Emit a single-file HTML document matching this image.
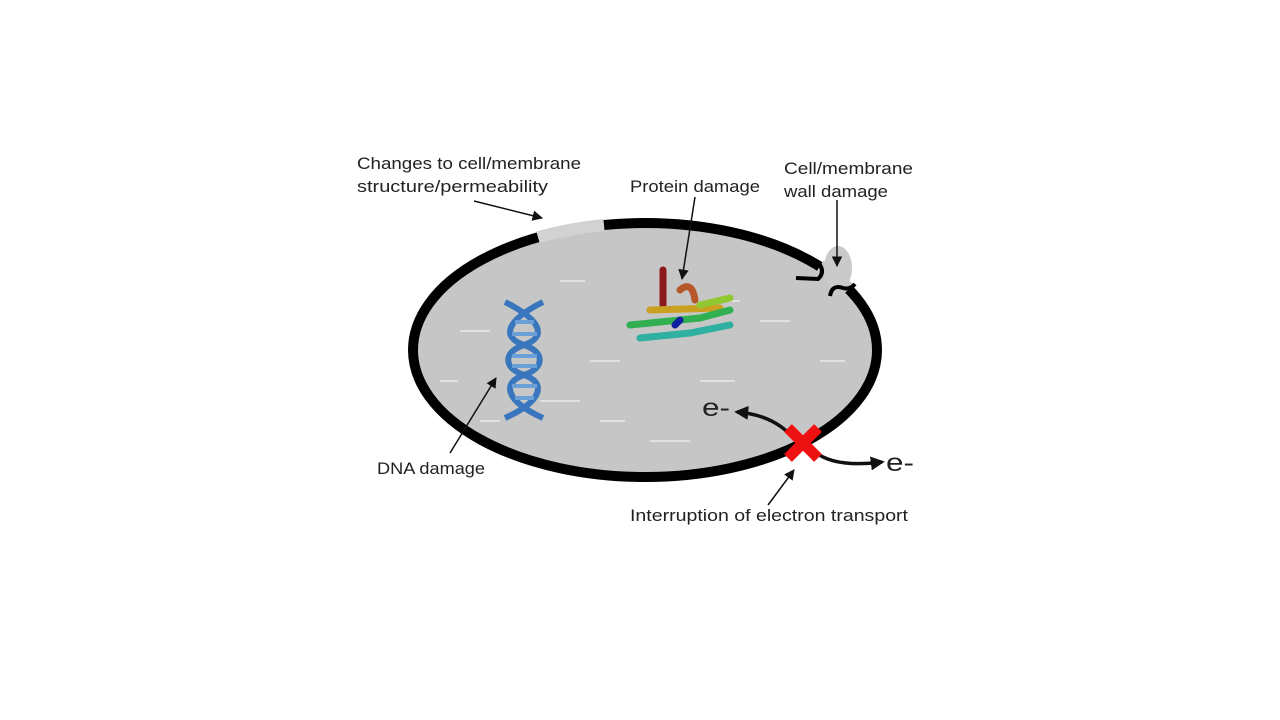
<!DOCTYPE html>
<html><head><meta charset="utf-8"><style>
html,body{margin:0;padding:0;background:#fff;width:1280px;height:720px;overflow:hidden}
svg{display:block}
text{font-family:"Liberation Sans",sans-serif;fill:#222}
</style></head><body>
<svg width="1280" height="720" viewBox="0 0 1280 720">
<defs>
<marker id="a" viewBox="0 0 10 10" refX="9" refY="5" markerWidth="7" markerHeight="7" orient="auto"><path d="M0,0 L10,5 L0,10 z" fill="#111"/></marker>
<marker id="b" viewBox="0 0 10 10" refX="8" refY="5" markerWidth="4" markerHeight="4" orient="auto"><path d="M0,0 L10,5 L0,10 z" fill="#111"/></marker>
</defs>
<ellipse cx="645" cy="350" rx="232" ry="127" fill="#c6c6c6" stroke="#000" stroke-width="10"/>
<g fill="#e8e8e8" opacity=".8">
<rect x="460" y="330" width="30" height="2"/><rect x="540" y="400" width="40" height="2"/><rect x="600" y="420" width="25" height="2"/><rect x="700" y="380" width="35" height="2"/><rect x="480" y="420" width="20" height="2"/><rect x="760" y="320" width="30" height="2"/><rect x="650" y="440" width="40" height="2"/><rect x="560" y="280" width="25" height="2"/><rect x="820" y="360" width="25" height="2"/><rect x="440" y="380" width="18" height="2"/><rect x="720" y="300" width="20" height="2"/><rect x="590" y="360" width="30" height="2"/>
</g>
<path d="M538,237.3 A232,127 0 0 1 604,225" fill="none" stroke="#d2d2d2" stroke-width="12"/>
<path d="M820,266 A232,127 0 0 1 849,289" fill="none" stroke="#c9c9c9" stroke-width="13"/>
<ellipse cx="838" cy="268" rx="14" ry="22" fill="#cacaca"/>
<path d="M796,278 L818,279 Q826,272 818,262" fill="none" stroke="#000" stroke-width="4"/>
<path d="M830,296 Q832,284 843,288 Q850,290 855,284" fill="none" stroke="#000" stroke-width="4"/>
<g fill="none" stroke="#3a76bd" stroke-width="6">
<path d="M505,302 C545,322 545,338 524,345 C503,352 503,368 524,375 C545,382 545,400 505,418"/>
<path d="M543,302 C503,322 503,338 524,345 C545,352 545,368 524,375 C503,382 503,400 543,418"/>
</g>
<g stroke="#6a9fd8" stroke-width="4">
<line x1="515" y1="322" x2="534" y2="322"/><line x1="512" y1="334" x2="537" y2="334"/><line x1="512" y1="356" x2="537" y2="356"/><line x1="512" y1="366" x2="537" y2="366"/><line x1="512" y1="386" x2="537" y2="386"/><line x1="515" y1="398" x2="534" y2="398"/>
</g>
<g stroke-width="7" fill="none" stroke-linecap="round">
<path d="M663,270 L663,305" stroke="#8b1a1a"/>
<path d="M680,290 Q692,280 695,300" stroke="#b5572a"/>
<path d="M650,310 L720,308" stroke="#c9a020"/>
<path d="M700,305 L730,298" stroke="#8fc830"/>
<path d="M630,325 L700,318 L730,310" stroke="#30b050"/>
<path d="M640,338 L690,333 L730,325" stroke="#30b0a0"/>
<path d="M675,325 L680,320" stroke="#1020a0"/>
</g>
<path d="M795,440 Q775,415 737,412" fill="none" stroke="#111" stroke-width="3.5" marker-end="url(#b)"/>
<path d="M815,452 Q835,468 882,462" fill="none" stroke="#111" stroke-width="3.5" marker-end="url(#b)"/>
<g stroke="#ee1111" stroke-width="11"><line x1="788" y1="428" x2="818" y2="458"/><line x1="818" y1="428" x2="788" y2="458"/></g>
<text x="702" y="416" font-size="25" textLength="28" lengthAdjust="spacingAndGlyphs">e-</text>
<text x="886" y="471" font-size="25" textLength="28" lengthAdjust="spacingAndGlyphs">e-</text>
<g font-size="17">
<text x="357" y="169" textLength="224" lengthAdjust="spacingAndGlyphs">Changes to cell/membrane</text>
<text x="357" y="192" textLength="191" lengthAdjust="spacingAndGlyphs">structure/permeability</text>
<text x="630" y="192" textLength="130" lengthAdjust="spacingAndGlyphs">Protein damage</text>
<text x="784" y="174" textLength="129" lengthAdjust="spacingAndGlyphs">Cell/membrane</text>
<text x="784" y="197" textLength="104" lengthAdjust="spacingAndGlyphs">wall damage</text>
<text x="377" y="474" textLength="108" lengthAdjust="spacingAndGlyphs">DNA damage</text>
<text x="630" y="521" textLength="278" lengthAdjust="spacingAndGlyphs">Interruption of electron transport</text>
</g>
<g stroke="#111" stroke-width="1.5" fill="none">
<line x1="474" y1="201" x2="542" y2="218" marker-end="url(#a)"/>
<line x1="695" y1="197" x2="682" y2="279" marker-end="url(#a)"/>
<line x1="837" y1="200" x2="837" y2="266" marker-end="url(#a)"/>
<line x1="450" y1="453" x2="496" y2="378" marker-end="url(#a)"/>
<line x1="768" y1="505" x2="794" y2="470" marker-end="url(#a)"/>
</g>
</svg>
</body></html>
